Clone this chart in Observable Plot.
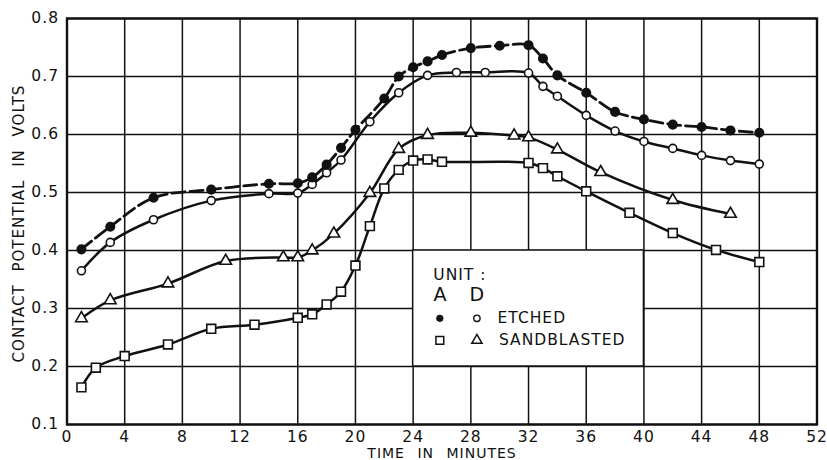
<!DOCTYPE html>
<html>
<head>
<meta charset="utf-8">
<script src="https://cdn.jsdelivr.net/npm/d3@7"></script>
<script src="https://cdn.jsdelivr.net/npm/@observablehq/plot@0.6"></script>
<style>
  html, body { margin: 0; padding: 0; background: #fff; }
</style>
</head>
<body>
<div id="chart"></div>
<script>
// Unit A, etched (filled circles, dashed line)
const tAEtched = [1,3,6,10,14,16,17,18,19,20,22,23,24,25,26,28,30,32,33,34,36,38,40,42,44,46,48];
const vAEtched = [0.402,0.441,0.491,0.505,0.515,0.516,0.526,0.548,0.577,0.608,0.662,0.700,0.716,0.726,0.737,0.749,0.753,0.754,0.731,0.702,0.672,0.639,0.626,0.617,0.613,0.607,0.603];
// Unit D, etched (open circles)
const tDEtched = [1,3,6,10,14,16,17,18,19,21,23,25,27,29,32,33,34,36,38,40,42,44,46,48];
const vDEtched = [0.365,0.414,0.453,0.486,0.498,0.499,0.514,0.534,0.556,0.622,0.672,0.702,0.707,0.707,0.706,0.683,0.666,0.633,0.606,0.588,0.576,0.564,0.555,0.549];
// Unit D, sandblasted (triangles)
const tDSand = [1,3,7,11,15,16,17,18.5,21,23,25,28,31,32,34,37,42,46];
const vDSand = [0.283,0.314,0.343,0.382,0.388,0.388,0.400,0.429,0.499,0.575,0.599,0.603,0.598,0.595,0.574,0.535,0.487,0.463];
// Unit A, sandblasted (squares)
const tASand = [1,2,4,7,10,13,16,17,18,19,20,21,22,23,24,25,26,32,33,34,36,39,42,45,48];
const vASand = [0.164,0.198,0.218,0.238,0.265,0.272,0.284,0.290,0.307,0.329,0.374,0.442,0.507,0.539,0.555,0.557,0.553,0.551,0.542,0.528,0.502,0.465,0.430,0.401,0.380];

const xTicks = [0,4,8,12,16,20,24,28,32,36,40,44,48,52];
const yTicks = [0.1,0.2,0.3,0.4,0.5,0.6,0.7,0.8];
const xLabel = "TIME IN MINUTES";
const yLabel = "CONTACT POTENTIAL IN VOLTS";
const legendTitle = "UNIT :";
const legendUnits = ["A", "D"];
const legendRows = ["ETCHED", "SANDBLASTED"];

const zip = (t, v) => t.map((x, i) => ({t: x, v: v[i]}));
const aEtched = zip(tAEtched, vAEtched);
const dEtched = zip(tDEtched, vDEtched);
const dSand = zip(tDSand, vDSand);
const aSand = zip(tASand, vASand);

const ink = "#111";
const font = "DejaVu Sans";

const chart = Plot.plot({
  width: 827,
  height: 460,
  marginLeft: 66.5,
  marginRight: 10.5,
  marginTop: 18,
  marginBottom: 36,
  style: {fontFamily: font, fontSize: "15px", background: "#fff", color: ink, letterSpacing: "1px"},
  x: {domain: [0, 52]},
  y: {domain: [0.1, 0.8]},
  marks: [
    Plot.gridX(xTicks, {stroke: ink, strokeOpacity: 1, strokeWidth: 1.5}),
    Plot.gridY(yTicks, {stroke: ink, strokeOpacity: 1, strokeWidth: 1.5}),
    // legend box (white cell covering the grid)
    Plot.rect([{x1: 24, x2: 40, y1: 0.2, y2: 0.4}], {x1: "x1", x2: "x2", y1: "y1", y2: "y2", fill: "#fff", stroke: ink, strokeWidth: 1.5}),
    Plot.frame({stroke: ink, strokeWidth: 2.4}),
    Plot.axisX(xTicks, {tickSize: 0, tickPadding: 6.5, label: null, fontSize: 15.5}),
    Plot.axisY(yTicks, {tickSize: 0, tickPadding: 8, label: null, fontSize: 15.5, tickFormat: d => d.toFixed(1)}),
    Plot.text([xLabel], {frameAnchor: "bottom", dy: 29, lineAnchor: "middle", textAnchor: "middle", fontSize: 14, fill: ink}),
    Plot.text([yLabel], {frameAnchor: "left", dx: -48, dy: 2, rotate: -90, lineAnchor: "middle", textAnchor: "middle", fontSize: 15, fill: ink}),
    // curves
    Plot.line(aSand, {x: "t", y: "v", curve: "catmull-rom", stroke: ink, strokeWidth: 2.5}),
    Plot.line(dSand, {x: "t", y: "v", curve: "catmull-rom", stroke: ink, strokeWidth: 2.5}),
    Plot.line(dEtched, {x: "t", y: "v", curve: "catmull-rom", stroke: ink, strokeWidth: 2.5}),
    Plot.line(aEtched, {x: "t", y: "v", curve: "catmull-rom", stroke: ink, strokeWidth: 2.8, strokeDasharray: "13,5"}),
    // points
    Plot.dot(aSand, {x: "t", y: "v", symbol: "square", r: 5, fill: "#fff", stroke: ink, strokeWidth: 1.6}),
    Plot.dot(dSand, {x: "t", y: "v", symbol: "triangle", r: 4.3, fill: "#fff", stroke: ink, strokeWidth: 1.6}),
    Plot.dot(dEtched, {x: "t", y: "v", r: 4, fill: "#fff", stroke: ink, strokeWidth: 1.6}),
    Plot.dot(aEtched, {x: "t", y: "v", r: 4.3, fill: ink, stroke: ink}),
    // legend content
    Plot.text([legendTitle], {x: 25.4, y: 0.357, textAnchor: "start", fontSize: 15.5, fill: ink}),
    Plot.text(legendUnits, {x: [25.9, 28.45], y: [0.323, 0.323], fontSize: 19, fill: ink}),
    Plot.dot([0], {x: [25.85], y: [0.283], r: 3.6, fill: ink}),
    Plot.dot([0], {x: [28.42], y: [0.283], r: 3.2, fill: "#fff", stroke: ink, strokeWidth: 1.4}),
    Plot.dot([0], {x: [25.85], y: [0.245], symbol: "square", r: 4.4, fill: "#fff", stroke: ink, strokeWidth: 1.5}),
    Plot.dot([0], {x: [28.42], y: [0.245], symbol: "triangle", r: 3.8, fill: "#fff", stroke: ink, strokeWidth: 1.5}),
    Plot.text(legendRows, {x: [29.85, 29.95], y: [0.283, 0.245], textAnchor: "start", fontSize: 15.5, fill: ink})
  ]
});
// extra word spacing for the axis titles, like the lettering in the original
d3.select(chart).selectAll("text")
  .filter(function() { return this.textContent === xLabel || this.textContent === yLabel; })
  .attr("word-spacing", "7px");
document.getElementById("chart").appendChild(chart);
</script>
</body>
</html>
